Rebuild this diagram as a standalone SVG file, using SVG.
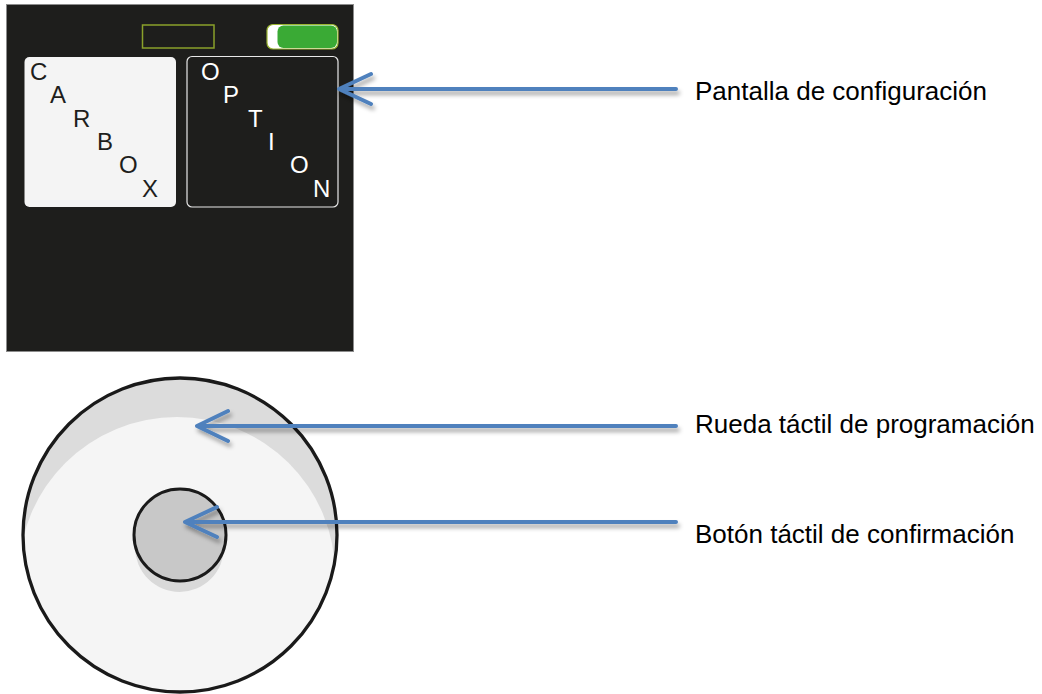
<svg xmlns="http://www.w3.org/2000/svg" width="1042" height="694" viewBox="0 0 1042 694">
<style>
.letter{font-family:"Liberation Sans",Arial,sans-serif;font-size:24px}
.dark{fill:#1e1e1c}
.light{fill:#ffffff}
.label{font-family:"Liberation Sans",Arial,sans-serif;font-size:26px;fill:#000}
.arrow{fill:none;stroke:#4f81bd;stroke-width:4;stroke-linecap:round;stroke-linejoin:round}
</style>
<defs>
<filter id="sh" x="-10%" y="-50%" width="120%" height="250%">
<feDropShadow dx="2" dy="4" stdDeviation="2.2" flood-color="#000" flood-opacity="0.35"/>
</filter>
<clipPath id="wheelClip"><circle cx="180" cy="535" r="157"/></clipPath>
</defs>
<rect width="1042" height="694" fill="#fff"/>
<g id="screen">
<rect x="6.5" y="4.5" width="347" height="347" fill="#1e1e1c" stroke="#8c8c8c" stroke-width="1"/>
<rect x="142.5" y="25" width="71.5" height="23" fill="none" stroke="#8aa12a" stroke-width="1.5"/>
<rect x="267" y="24.5" width="71" height="24.5" rx="6" fill="#ffffff" stroke="#9ab530" stroke-width="1.2"/>
<rect x="277.5" y="25.5" width="59.5" height="22.5" rx="6" fill="#3aaa35"/>
</g>
<g id="carbox">
<rect x="24.5" y="57" width="151.5" height="150" rx="5" fill="#f4f4f4"/>
<text class="letter dark" x="30" y="80">C</text>
<text class="letter dark" x="50" y="103">A</text>
<text class="letter dark" x="73" y="127">R</text>
<text class="letter dark" x="97" y="150">B</text>
<text class="letter dark" x="119" y="173">O</text>
<text class="letter dark" x="142" y="197">X</text>
</g>
<g id="option">
<rect x="187" y="56.5" width="151" height="150.5" rx="5" fill="#1e1e1c" stroke="#e8e8e8" stroke-width="1.2"/>
<text class="letter light" x="201" y="80">O</text>
<text class="letter light" x="223" y="103">P</text>
<text class="letter light" x="248" y="127">T</text>
<text class="letter light" x="268" y="150">I</text>
<text class="letter light" x="290" y="173">O</text>
<text class="letter light" x="313" y="197">N</text>
</g>
<g id="wheel">
<circle cx="180" cy="535" r="157" fill="#dcdcdc"/>
<ellipse cx="177" cy="574" rx="158" ry="157" fill="#f5f5f5" clip-path="url(#wheelClip)"/>
<circle cx="180" cy="535" r="157" fill="none" stroke="#1a1a1a" stroke-width="3.3"/>
</g>
<g id="button">
<ellipse cx="179.5" cy="547" rx="44.5" ry="45" fill="#d9d9d9"/>
<circle cx="180" cy="535" r="46" fill="#c8c8c8" stroke="#1a1a1a" stroke-width="3"/>
</g>
<g id="connectors" filter="url(#sh)">
<path class="arrow" d="M676 89 H339 M371 74 L339 89 L371 104"/>
<path class="arrow" d="M676 426 H197 M228 411 L197 426 L228 441"/>
<path class="arrow" d="M676 522 H185 M217 507 L185 522 L217 537"/>
</g>
<g id="labels">
<text class="label" x="695" y="100">Pantalla de configuración</text>
<text class="label" x="695" y="433">Rueda táctil de programación</text>
<text class="label" x="695" y="543">Botón táctil de confirmación</text>
</g>
</svg>
